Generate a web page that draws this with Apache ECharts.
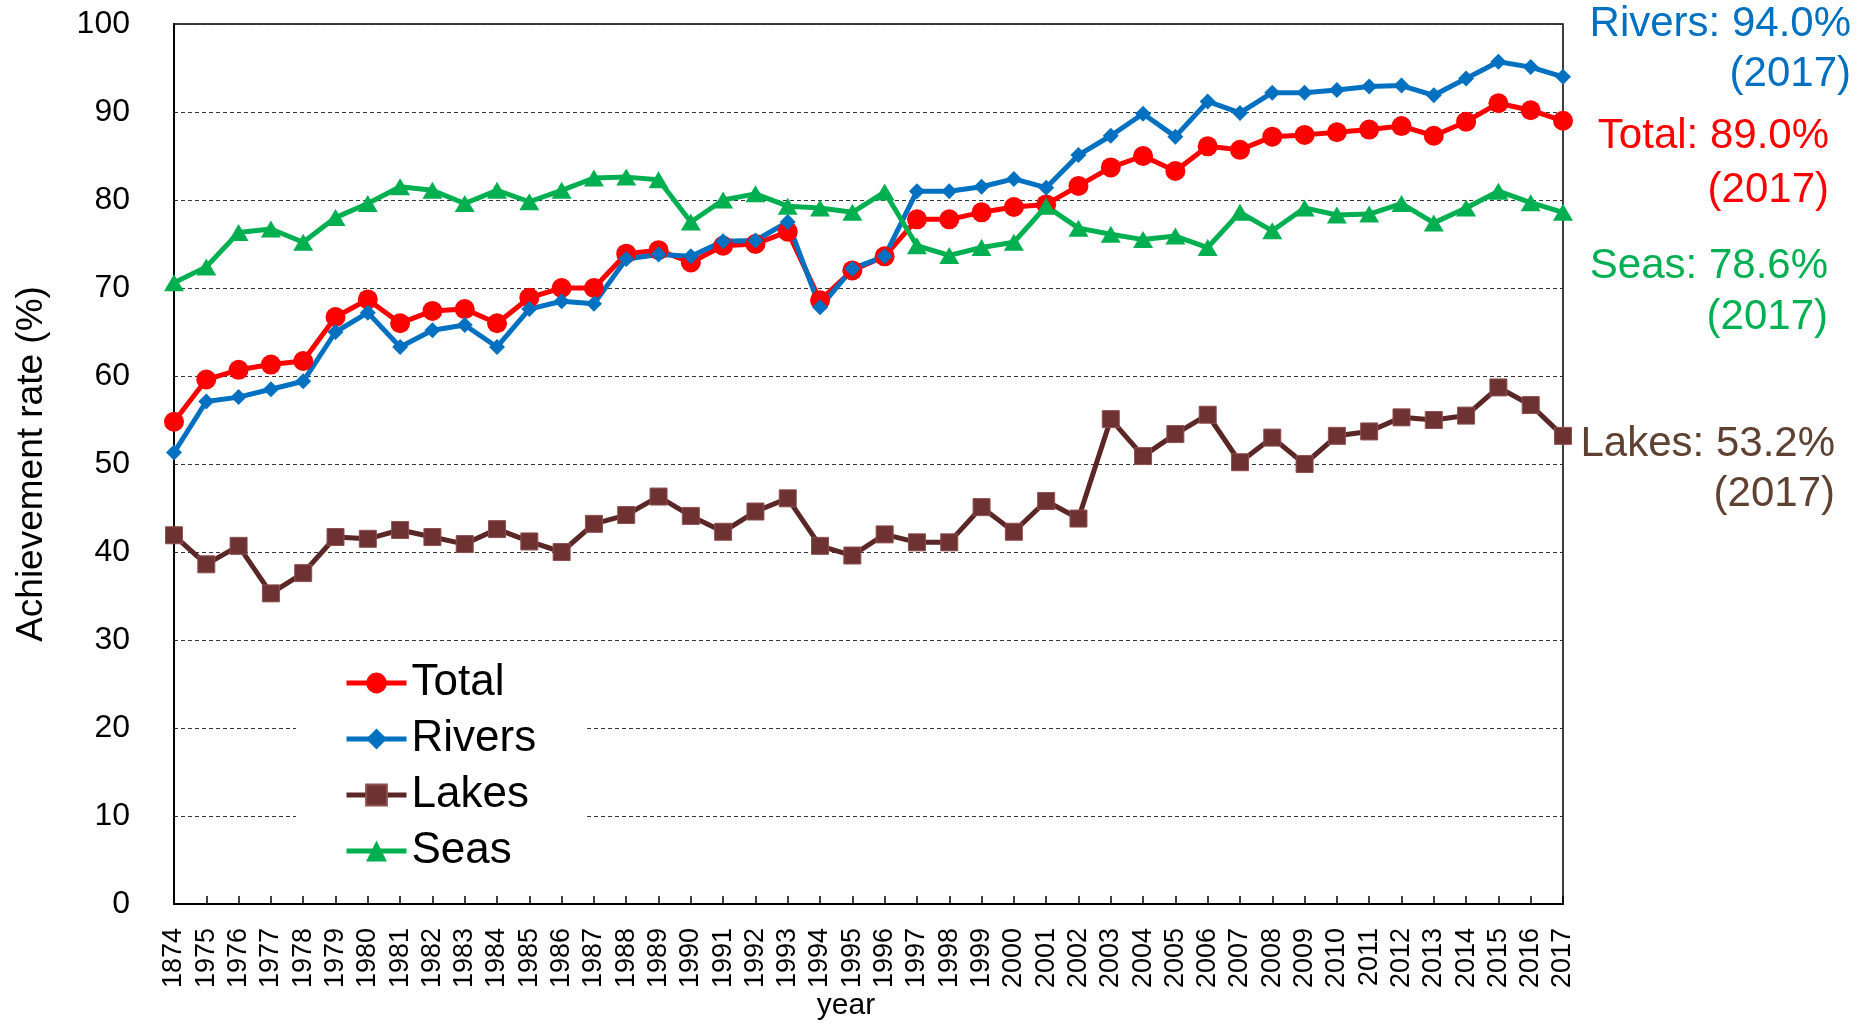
<!DOCTYPE html>
<html><head><meta charset="utf-8">
<script src="https://cdn.jsdelivr.net/npm/echarts@6/dist/echarts.min.js"></script>
<style>html,body{margin:0;padding:0;background:#fff}#c{width:1868px;height:1024px}</style>
</head><body><div id="c"></div>
<script>
const years = ['1874','1975','1976','1977','1978','1979','1980','1981','1982','1983','1984','1985','1986','1987','1988','1989','1990','1991','1992','1993','1994','1995','1996','1997','1998','1999','2000','2001','2002','2003','2004','2005','2006','2007','2008','2009','2010','2011','2012','2013','2014','2015','2016','2017'];
const total = [54.8,59.6,60.7,61.3,61.7,66.7,68.7,66.0,67.4,67.6,66.0,68.9,70.0,70.0,73.9,74.3,72.9,74.8,
  75.0,76.4,68.6,72.0,73.6,77.8,77.8,78.6,79.2,79.5,81.6,83.7,85.0,83.3,86.1,85.7,87.2,87.4,87.7,88.0,88.4,87.3,88.9,91.0,90.2,89.0];
const rivers = [51.3,57.1,57.6,58.5,59.4,65.0,67.2,63.3,65.2,65.8,63.3,67.6,68.5,68.2,73.3,73.8,73.6,75.3,
  75.4,77.5,67.8,72.2,73.6,81.0,81.0,81.5,82.4,81.4,85.1,87.3,89.8,87.2,91.2,89.9,92.2,92.2,92.5,92.9,93.0,91.9,93.8,95.7,95.1,94.0];
const lakes = [41.9,38.6,40.7,35.3,37.6,41.7,41.5,42.5,41.7,40.9,42.6,41.2,40.0,43.2,44.2,46.3,44.1,42.3,
  44.6,46.1,40.7,39.6,42.0,41.1,41.1,45.1,42.3,45.8,43.8,55.1,50.9,53.4,55.6,50.2,53.0,50.0,53.2,53.7,55.3,55.0,55.5,58.7,56.7,53.2];
const seas = [70.6,72.4,76.3,76.7,75.2,78.0,79.6,81.5,81.1,79.6,81.1,79.8,81.1,82.5,82.6,82.3,77.5,80.0,
  80.7,79.3,79.1,78.6,80.9,74.8,73.7,74.6,75.2,79.3,76.8,76.1,75.5,75.9,74.6,78.6,76.5,79.1,78.3,78.4,79.6,77.4,79.1,81.0,79.7,78.6];
const yTicks = {min: 0, max: 100, interval: 10};
const notes = [
  {lines: ['Rivers: 94.0%', '(2017)'], color: '#0070C0', x: 1851, y: [24, 74]},
  {lines: ['Total: 89.0%', '(2017)'], color: '#FF0000', x: 1829, y: [136, 190]},
  {lines: ['Seas: 78.6%', '(2017)'], color: '#00B050', x: 1828, y: [266, 317]},
  {lines: ['Lakes: 53.2%', '(2017)'], color: '#5E4131', x: 1835, y: [444, 494]}
];

const FF = 'Liberation Sans, Arial, sans-serif';
const chart = echarts.init(document.getElementById('c'));

const graphic = [];
notes.forEach(n => {
  n.lines.forEach((t, i) => {
    graphic.push({type: 'text', x: n.x, y: n.y[i], z: 100,
      style: {text: t, fill: n.color, font: '42px ' + FF, align: 'right', verticalAlign: 'middle'}});
  });
});
graphic.push({type: 'text', x: 846, y: 1006, style: {text: 'year', fill: '#000', font: '30px ' + FF, align: 'center', verticalAlign: 'middle'}});

function mk(name, data, color, symbol, size, extra) {
  return Object.assign({
    name, type: 'line', data, symbol, symbolSize: size, showSymbol: true,
    lineStyle: {color, width: 5}, itemStyle: {color},
    emphasis: {disabled: true}, animation: false
  }, extra || {});
}

chart.setOption({
  backgroundColor: '#fff',
  animation: false,
  textStyle: {fontFamily: FF},
  grid: {left: 174, right: 305, top: 24, bottom: 120, show: true, borderColor: '#000', borderWidth: 1.5, containLabel: false},
  legend: {
    orient: 'vertical', left: 296, top: 650,
    padding: [11, 51, 3, 48], backgroundColor: '#fff',
    itemWidth: 60, itemHeight: 26, itemGap: 12,
    lineStyle: {width: 5},
    textStyle: {fontSize: 44, lineHeight: 44, color: '#000', fontFamily: FF},
    data: ['Total', 'Rivers', 'Lakes', 'Seas']
  },
  xAxis: {
    type: 'category', data: years, boundaryGap: false,
    axisLine: {lineStyle: {color: '#000', width: 2}},
    axisTick: {show: true, inside: true, length: 8, alignWithLabel: true, interval: 0, lineStyle: {color: '#000', width: 1.5}},
    axisLabel: {rotate: 90, interval: 0, fontSize: 27, margin: 24, color: '#000', fontFamily: FF},
    splitLine: {show: false}
  },
  yAxis: {
    type: 'value', min: yTicks.min, max: yTicks.max, interval: yTicks.interval,
    name: 'Achievement rate (%)', nameLocation: 'middle', nameGap: 124,
    nameTextStyle: {fontSize: 37, color: '#000', fontFamily: FF},
    axisLine: {show: true, lineStyle: {color: '#000', width: 2}},
    axisTick: {show: false},
    axisLabel: {fontSize: 32, margin: 44, color: '#000', fontFamily: FF},
    splitLine: {show: true, lineStyle: {color: '#333', width: 1.2, type: [4, 3]}}
  },
  graphic,
  series: [
    mk('Total', total, '#FF0000', 'circle', 20),
    mk('Rivers', rivers, '#0070C0', 'diamond', 16),
    Object.assign(mk('Lakes', lakes, '#5A2626', 'rect', 17), {itemStyle: {color: '#6E3232', borderColor: '#8E5050', borderWidth: 1}}),
    mk('Seas', seas, '#00B050', 'triangle', [20, 17])
  ]
});
</script></body></html>
